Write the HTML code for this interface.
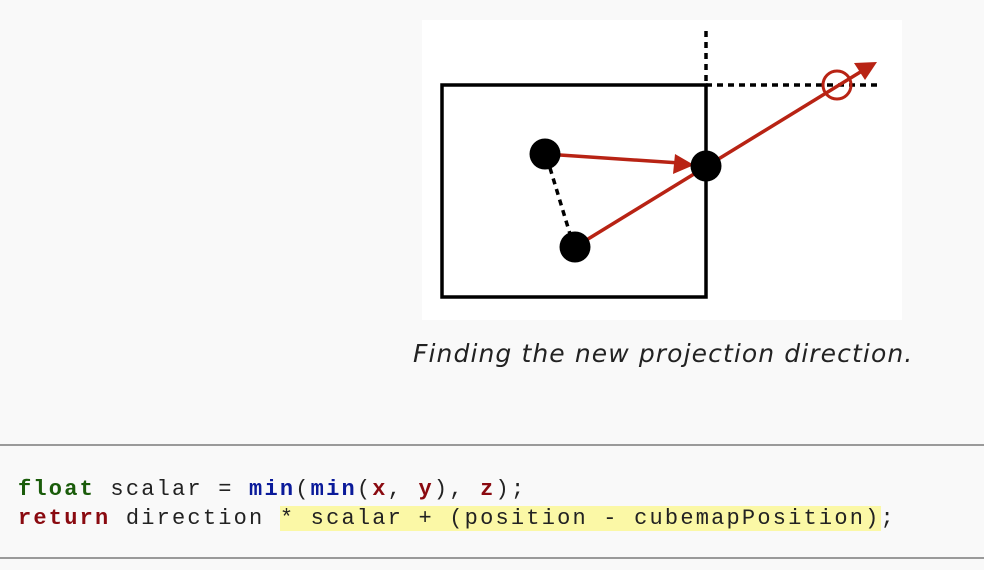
<!DOCTYPE html>
<html><head><style>
body{margin:0;width:984px;height:570px;background:#f9f9f9;position:relative;overflow:hidden;font-family:"Liberation Sans",sans-serif}
.cap{position:absolute;left:413px;top:339px;font-style:italic;color:#222;white-space:nowrap;font-family:"DejaVu Sans","Liberation Sans",sans-serif;font-size:25px;letter-spacing:1.1px}
.hr{position:absolute;left:0;width:984px;height:2px;background:#9a9a9a}
.code{position:absolute;left:18px;font-family:"Liberation Mono",monospace;font-size:22px;letter-spacing:2.2px;color:#222;white-space:pre}
.k{color:#1a5c0a;font-weight:bold}.r{color:#8a0a10;font-weight:bold}.b{color:#0a1a9a;font-weight:bold}
.hl{background:#fbf8a6}
</style></head><body>
<svg style="position:absolute;left:0;top:0" width="984" height="440">
<rect x="422" y="20" width="480" height="300" fill="#fff"/>
<rect x="442" y="85" width="264" height="212" fill="none" stroke="#000" stroke-width="3.5"/>
<line x1="706" y1="31" x2="706" y2="85" stroke="#000" stroke-width="3.5" stroke-dasharray="6,5"/>
<line x1="706" y1="85" x2="880" y2="85" stroke="#000" stroke-width="3.5" stroke-dasharray="6,5"/>
<line x1="575" y1="247" x2="862" y2="71" stroke="#b82314" stroke-width="3.5"/>
<polygon points="877,62 854,63 865,80" fill="#b82314"/>
<line x1="545" y1="154" x2="680" y2="163" stroke="#b82314" stroke-width="3.5"/>
<polygon points="694,165 675,154 673,174" fill="#b82314"/>
<line x1="550" y1="168" x2="570" y2="234" stroke="#000" stroke-width="3.5" stroke-dasharray="6,5"/>
<circle cx="837" cy="85" r="14" fill="none" stroke="#b82314" stroke-width="3"/>
<circle cx="545" cy="154" r="15.5" fill="#000"/>
<circle cx="575" cy="247" r="15.5" fill="#000"/>
<circle cx="706" cy="166" r="15.5" fill="#000"/>
</svg>
<div class="cap">Finding the new projection direction.</div>
<div class="hr" style="top:444px"></div>
<div class="hr" style="top:557px"></div>
<div class="code" style="top:477px"><span class="k">float</span> scalar = <span class="b">min</span>(<span class="b">min</span>(<span class="r">x</span>, <span class="r">y</span>), <span class="r">z</span>);</div>
<div class="code" style="top:506px"><span class="r">return</span> direction <span class="hl">* scalar + (position - cubemapPosition)</span>;</div>
</body></html>
